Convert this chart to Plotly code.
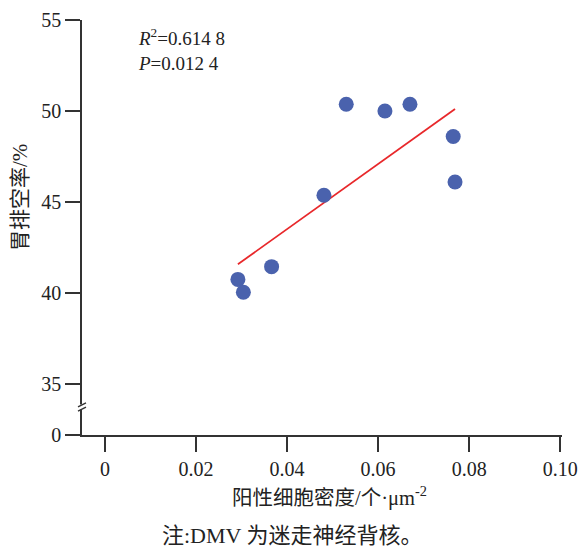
import plotly.graph_objects as go

# Data
density = [0.0530, 0.0615, 0.0670, 0.0765, 0.0769, 0.0481, 0.0366, 0.0292, 0.0304]
emptying = [50.37, 50.00, 50.37, 48.60, 46.10, 45.37, 41.45, 40.75, 40.04]
fit_x = [0.0292, 0.0769]
fit_y = [41.58, 50.11]

x_ticks = [0, 0.02, 0.04, 0.06, 0.08, 0.10]
x_ticktext = ["0", "0.02", "0.04", "0.06", "0.08", "0.10"]
y_break_base = 32.2   # position where the "0" label sits below the axis break
y_ticks = [y_break_base, 35, 40, 45, 50, 55]
y_ticktext = ["0", "35", "40", "45", "50", "55"]

SERIF = "Liberation Serif, Noto Sans CJK SC"
AX = "#333333"
TXT = "#222222"

fig = go.Figure()
fig.add_trace(go.Scatter(x=fit_x, y=fit_y, mode="lines",
                         line=dict(color="#e8282b", width=1.8), showlegend=False))
fig.add_trace(go.Scatter(x=density, y=emptying, mode="markers",
                         marker=dict(color="#4a62ad", size=15, line=dict(width=0)),
                         showlegend=False))

fig.update_layout(
    template="none",
    width=582, height=549,
    margin=dict(l=82, r=20, t=20, b=114, autoexpand=False),
    plot_bgcolor="white", paper_bgcolor="white",
    font=dict(family=SERIF, size=20, color=TXT),
    xaxis=dict(range=[-0.00505, 0.1004], tickvals=x_ticks, ticktext=x_ticktext,
               automargin=False,
               showgrid=False, zeroline=False, showline=True, linecolor=AX, linewidth=1.6,
               ticks="outside", ticklen=15, tickwidth=1.6, tickcolor=AX,
               tickfont=dict(family=SERIF, size=20, color=TXT)),
    yaxis=dict(range=[y_break_base, 55], tickvals=y_ticks, ticktext=y_ticktext,
               automargin=False,
               showgrid=False, zeroline=False, showline=True, linecolor=AX, linewidth=1.6,
               ticks="outside", ticklen=15, tickwidth=1.6, tickcolor=AX,
               tickfont=dict(family=SERIF, size=20, color=TXT)),
)

# axis break marks
fig.add_shape(type="rect", xref="paper", yref="y", xsizemode="pixel", ysizemode="pixel",
              xanchor=0, yanchor=33.74, x0=-3, x1=3, y0=-2.5, y1=2.5,
              fillcolor="white", line=dict(width=0), layer="above")
for dy in (2.2, -2.2):
    fig.add_shape(type="line", xref="paper", yref="y", xsizemode="pixel", ysizemode="pixel",
                  xanchor=0, yanchor=33.74, x0=-4, x1=4, y0=dy - 2, y1=dy + 2,
                  line=dict(color=AX, width=1.4), layer="above")

fig.add_annotation(xref="paper", yref="paper", x=(136 - 82) / 480, y=1.0 - 3 / 415,
                   xanchor="left", yanchor="top",
                   text="<i>R</i><sup>2</sup>=0.614 8<br><i>P</i>=0.012 4", showarrow=False,
                   align="left", font=dict(family=SERIF, size=19, color=TXT))

fig.add_annotation(xref="paper", yref="paper", x=(329 - 82) / 480, y=-(496 - 435) / 415,
                   xanchor="center", yanchor="middle", showarrow=False,
                   text="阳性细胞密度/个·μm<sup>-2</sup>",
                   font=dict(family=SERIF, size=20.5, color=TXT))
fig.add_annotation(xref="paper", yref="paper", x=(20 - 82) / 480, y=(435 - 197) / 415,
                   xanchor="center", yanchor="middle", showarrow=False, textangle=-90,
                   text="胃排空率/%", font=dict(family=SERIF, size=21, color=TXT))
fig.add_annotation(xref="paper", yref="paper", x=(292 - 82) / 480, y=-(535 - 435) / 415,
                   xanchor="center", yanchor="middle", showarrow=False, borderpad=0,
                   text="注:DMV 为迷走神经背核。",
                   font=dict(family=SERIF, size=22, color=TXT))

fig.write_html("out.html", post_script="document.body.style.margin='0';",
               config={"displayModeBar": False})
